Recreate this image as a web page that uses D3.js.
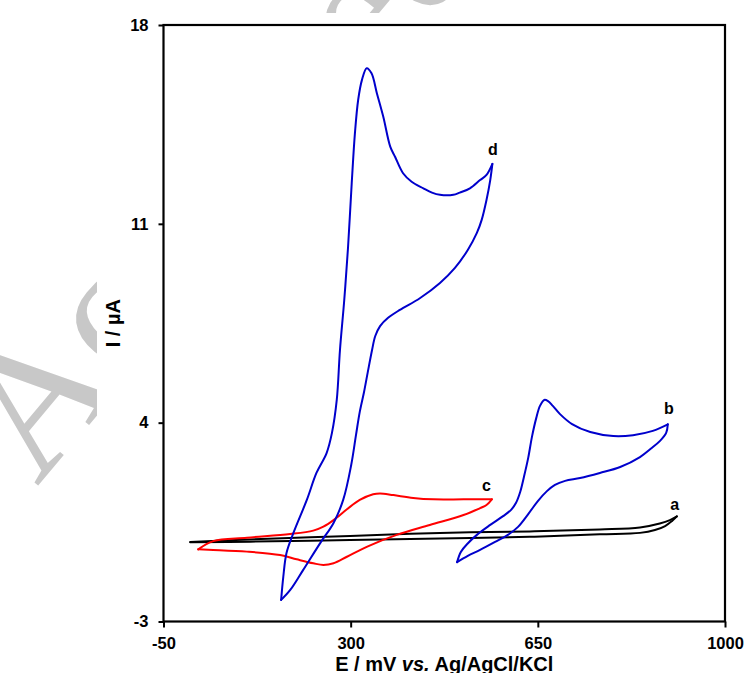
<!DOCTYPE html>
<html>
<head>
<meta charset="utf-8">
<script src="https://cdn.jsdelivr.net/npm/d3@7"></script>
<style>
  html, body { margin: 0; padding: 0; background: #fff; }
  svg { display: block; }
</style>
</head>
<body>
<svg id="chart" width="747" height="673"></svg>
<script>
// ---------------- data (E in mV, I in µA) ----------------
const xTicks = [-50, 300, 650, 1000];
const yTicks = [-3, 4, 11, 18];
const xTitle = "E / mV ";
const xTitleItalic = "vs.";
const xTitleTail = " Ag/AgCl/KCl";
const yTitle = "I / µA";
const watermarkText = "Accepted Manuscript";

// curve a (black)
const aForward = [[0,-0.20],[112,-0.11],[299,0.01],[467,0.12],[635,0.17],[766,0.24],[841,0.31],[878,0.45],[897,0.57],[910,0.70]];
const aReverse = [[910,0.70],[901,0.54],[888,0.36],[869,0.22],[841,0.12],[766,0.07],[635,-0.02],[467,-0.08],[299,-0.13],[112,-0.19],[0,-0.21]];

// curve b (blue, right)
const bForward = [[499,-0.91],[506,-0.55],[518,-0.27],[536,0.05],[561,0.40],[585,0.71],[600,0.93],[609,1.17],[617,1.56],[624,2.09],[632,2.76],[639,3.50],[647,4.16],[654,4.59],[662,4.80],[669,4.76],[678,4.59],[691,4.31],[714,3.95],[748,3.67],[791,3.53],[828,3.56],[865,3.71],[893,3.94]];
const bReverse = [[893,3.94],[890,3.64],[878,3.35],[863,3.11],[841,2.79],[804,2.44],[766,2.23],[729,2.05],[701,1.95],[682,1.81],[667,1.59],[650,1.24],[632,0.78],[613,0.33],[594,0.05],[570,-0.20],[542,-0.48],[519,-0.69],[499,-0.91]];

// curve c (red)
const cForward = [[15,-0.46],[43,-0.17],[106,-0.05],[187,0.08],[230,0.20],[249,0.34],[268,0.57],[293,0.95],[317,1.28],[342,1.48],[355,1.51],[380,1.45],[417,1.35],[455,1.30],[511,1.30],[564,1.30]];
const cReverse = [[564,1.30],[554,1.10],[542,0.99],[511,0.75],[448,0.40],[386,0.05],[330,-0.37],[293,-0.72],[268,-0.95],[249,-1.01],[230,-0.95],[199,-0.81],[168,-0.66],[106,-0.54],[43,-0.48],[15,-0.46]];

// curve d (blue, large)
const dForward = [[170,-2.24],[174,-1.43],[180,-0.59],[193,0.12],[218,1.28],[236,2.23],[255,2.93],[265,3.64],[274,4.80],[280,6.56],[288,8.32],[295,10.15],[302,12.44],[308,14.20],[314,15.36],[321,16.06],[330,16.48],[339,16.30],[349,15.60],[361,14.77],[374,13.72],[383,13.36],[398,12.78],[414,12.48],[436,12.25],[452,12.10],[467,12.02],[492,12.02],[504,12.10],[523,12.25],[542,12.54],[554,12.72],[565,13.11]];
const dReverse = [[565,13.11],[561,12.54],[554,11.84],[545,11.14],[536,10.68],[519,10.08],[495,9.45],[467,8.92],[430,8.39],[392,7.97],[370,7.69],[355,7.40],[346,7.05],[340,6.56],[332,5.78],[325,5.08],[317,4.38],[310,3.57],[301,2.51],[286,1.28],[268,0.47],[243,-0.24],[211,-1.19],[187,-1.89],[170,-2.24]];

// curve labels
const labelNames = ["a", "b", "c", "d"];
const labelE = [906, 895, 554, 566];
const labelI = [0.93, 4.30, 1.59, 13.42];

// ---------------- drawing ----------------
(function () {
const svg = d3.select("#chart");
const W = 747, H = 673;

// watermark (drawn behind, then covered by the chart's white area)
svg.append("text")
  .attr("transform", "translate(37,487) rotate(-50)")
  .attr("font-family", "Liberation Serif, DejaVu Serif, serif")
  .attr("font-size", 185)
  .attr("fill", "#c8c8c8")
  .text(watermarkText);
svg.append("rect").attr("x", 97).attr("y", 13).attr("width", W - 97).attr("height", H - 13).attr("fill", "#fff");

const pL = 163.5, pR = 725, pT = 25, pB = 621.5;
const x = d3.scaleLinear().domain([-50, 1000]).range([pL, pR]);
const y = d3.scaleLinear().domain([-3, 18]).range([pB, pT]);

const font = "Liberation Sans, Arial, sans-serif";

// axes
const fmt = d => String(d);
const xAxis = d3.axisBottom(x).tickValues(xTicks).tickSize(6).tickSizeOuter(0).tickPadding(10).tickFormat(fmt);
const yAxis = d3.axisLeft(y).tickValues(yTicks).tickSize(5).tickSizeOuter(0).tickPadding(10).tickFormat(fmt);

const gx = svg.append("g").attr("transform", `translate(0,${pB})`).call(xAxis);
const gy = svg.append("g").attr("transform", `translate(${pL},0)`).call(yAxis);
[gx, gy].forEach(g => {
  g.select(".domain").remove();
  g.selectAll(".tick line").attr("stroke", "#000").attr("stroke-width", 2);
  g.selectAll(".tick text").attr("fill", "#000").attr("font-family", font)
    .attr("font-weight", "bold").attr("font-size", 16.5);
});

// frame
svg.append("rect").attr("x", pL).attr("y", pT).attr("width", pR - pL).attr("height", pB - pT)
  .attr("fill", "none").attr("stroke", "#000").attr("stroke-width", 2.2);

// curves
const line = d3.line().x(d => x(d[0])).y(d => y(d[1])).curve(d3.curveCatmullRom.alpha(0.5));
const curves = [
  { data: aForward, color: "#000000" },
  { data: aReverse, color: "#000000" },
  { data: cForward, color: "#ff0000" },
  { data: cReverse, color: "#ff0000" },
  { data: bForward, color: "#0000cc" },
  { data: bReverse, color: "#0000cc" },
  { data: dForward, color: "#0000cc" },
  { data: dReverse, color: "#0000cc" }
];
svg.append("g").selectAll("path").data(curves).join("path")
  .attr("d", d => line(d.data))
  .attr("fill", "none")
  .attr("stroke", d => d.color)
  .attr("stroke-width", 2)
  .attr("stroke-linejoin", "round")
  .attr("stroke-linecap", "round");

// curve labels
svg.append("g").selectAll("text").data(labelNames).join("text")
  .attr("x", (d, i) => x(labelE[i]))
  .attr("y", (d, i) => y(labelI[i]))
  .attr("text-anchor", "middle")
  .attr("font-family", font).attr("font-weight", "bold").attr("font-size", 16)
  .attr("fill", "#000")
  .text(d => d);

// axis titles
const xt = svg.append("text")
  .attr("x", (pL + pR) / 2)
  .attr("y", 671)
  .attr("text-anchor", "middle")
  .attr("font-family", font).attr("font-weight", "bold").attr("font-size", 20)
  .attr("fill", "#000");
xt.append("tspan").text(xTitle);
xt.append("tspan").attr("font-style", "italic").text(xTitleItalic);
xt.append("tspan").text(xTitleTail);

svg.append("text")
  .attr("transform", `translate(120,${(pT + pB) / 2}) rotate(-90)`)
  .attr("text-anchor", "middle")
  .attr("font-family", font).attr("font-weight", "bold").attr("font-size", 20)
  .attr("fill", "#000")
  .text(yTitle);
})();
</script>
</body>
</html>
